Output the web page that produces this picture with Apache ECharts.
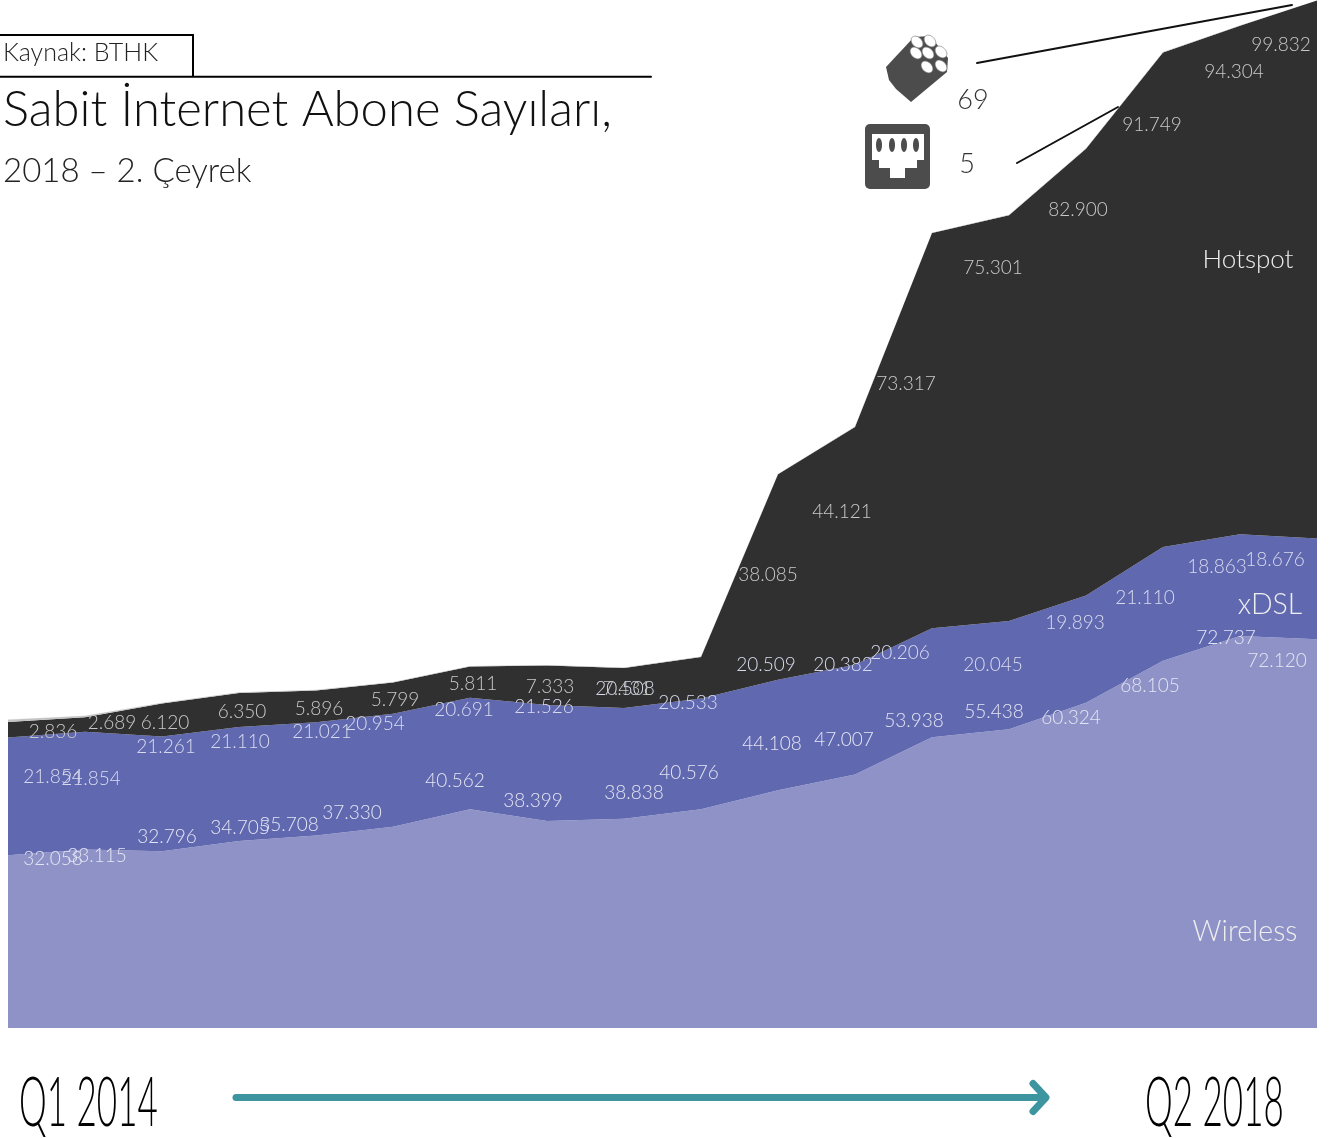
<!DOCTYPE html>
<html><head><meta charset="utf-8">
<style>html,body{margin:0;padding:0;background:#fff}#c{width:1338px;height:1138px}</style>
<script src="https://cdn.jsdelivr.net/npm/echarts@6/dist/echarts.min.js"></script>
</head><body><div id="c"></div>
<script>
const quarters = ['Q1 2014','Q2 2014','Q3 2014','Q4 2014','Q1 2015','Q2 2015','Q3 2015','Q4 2015','Q1 2016','Q2 2016','Q3 2016','Q4 2016','Q1 2017','Q2 2017','Q3 2017','Q4 2017','Q1 2018','Q2 2018'];
const wireless = [32058,33115,32796,34705,35708,37330,40562,38399,38838,40576,44108,47007,53938,55438,60324,68105,72737,72120];
const xdsl = [21854,21854,21261,21110,21021,20954,20691,21526,20508,20533,20509,20382,20206,20045,19893,21110,18863,18676];
const hotspot = [2836,2689,6120,6350,5896,5799,5811,7333,7431,7721,38085,44121,73317,75301,82900,91749,94304,99832];
const fiber = [420,260,130,100,90,85,80,78,76,75,74,73,72,71,70,70,69,69];
const ethernet = [40,25,15,12,10,9,8,8,7,7,6,6,6,5,5,5,5,5];

// Pixel centres of the value labels (layout only, hand placed in the source chart)
const wirelessLabelPos = [[53,859],[97,856],[167,837],[240,828],[289,825],[352,813],[455,781],[533,801],[634,793],[689,773],[772,744],[844,740],[914,721],[994,712],[1071,718],[1150,686],[1226,638],[1277,661]];
const xdslLabelPos = [[53,777],[91,779],[166,747],[240,742],[322,732],[375,724],[464,710],[544,707],[625,689],[688,703],[766,665],[843,665],[900,653],[993,665],[1075,623],[1145,598],[1217,567],[1275,560]];
const hotspotLabelPos = [[53,732],[112,723],[165,723],[242,712],[319,709],[395,700],[473,684],[550,687],[627,689],null,[768,575],[842,512],[906,384],[993,268],[1078,210],[1152,125],[1234,72],[1281,45]];

const FONT = 'Lato';
const fmt = v => String(v).replace(/\B(?=(\d{3})+$)/g, '.');
const chart = echarts.init(document.getElementById('c'), null, {renderer:'canvas'});
const maxY = 190702;

function layer(name, values, color, labelColor, pos, offsets){
  return {
    name, type:'line', stack:'total', data: values.map((v,i)=>{
      const item = {value:v};
      if(pos){
        item.label = pos[i] ? {show:true, offset: offsets ? offsets[i] : [0,0]} : {show:false};
      }
      return item;
    }),
    smooth:false, symbol:'circle', symbolSize:1, showSymbol:true, silent:true,
    itemStyle:{color:'rgba(0,0,0,0)'},
    lineStyle:{width:0}, areaStyle:{color, opacity:1},
    label:{show:!!pos, position:'inside', color:labelColor, fontFamily:FONT, fontWeight:300, fontSize:19,
      formatter:p=>fmt(p.value)},
    animation:false
  };
}

const Z = 100;
const T = (text,x,y,size,fill) => ({type:'text', x, y, z:Z, silent:true,
  style:{text, x:0, y:0, fill, font:`300 ${size}px ${FONT}`, textAlign:'center', textVerticalAlign:'middle'}});
const L = (x1,y1,x2,y2,w,c) => ({type:'line', z:Z, silent:true, shape:{x1,y1,x2,y2}, style:{stroke:c,lineWidth:w,lineCap:'round'}});
const TALL = (text,x,y) => ({type:'text', x, y, z:Z, scaleX:.515, silent:true,
  style:{text, x:0, y:0, fill:'#000', font:`300 68px ${FONT}`, textAlign:'left', textVerticalAlign:'middle'}});
const oval = (cx,cy) => ({type:'ellipse', z:Z+1, silent:true, shape:{cx,cy,rx:6.8,ry:4.8}, rotation:-Math.PI/4, originX:cx, originY:cy, style:{fill:'#fff',stroke:'#777',lineWidth:.6}});
const ICON='#4c4c4c';

const graphic = [
  L(0,35,193,35,2,'#000'), L(193,35,193,76,2,'#000'), L(0,76.7,651,76.7,2,'#000'),
  L(977,63,1292,5,2,'#111'), L(1017,163,1118,107,2,'#111'),
  T('69',973,100,27,'#333'), T('5',967,164,27,'#333'),
  T('Hotspot',1248,260,26,'#eee'), T('xDSL',1270,605,28.5,'#eee'), T('Wireless',1245,932,28.5,'#eee'),
  {type:'polygon', z:Z, silent:true, shape:{points:[[914,37],[886,67],[889,80],[896,89],[911,102],[947,72],[948,58],[930,36]]}, style:{fill:ICON}},
  oval(917,42),oval(930,41),oval(916,53),oval(928,53),oval(941,52),oval(927,67),oval(941,66),
  {type:'rect', z:Z, silent:true, shape:{x:865,y:124,width:65,height:65,r:5}, style:{fill:ICON}},
  {type:'polygon', z:Z+1, silent:true, shape:{points:[[872,134],[924,134],[924,160],[917,160],[917,168],[905,168],[905,178],[890,178],[890,168],[879,168],[879,160],[872,160]]}, style:{fill:'#fff'}},
  ...[879,892,904,916].map(cx=>({type:'ellipse', z:Z+2, silent:true, shape:{cx,cy:145,rx:3,ry:7}, style:{fill:ICON}})),
  TALL('Q1 2014',19,1104), TALL('Q2 2018',1145,1104),
  L(236,1097.5,1045,1097.5,7,'#3d95a0'),
  {type:'polyline', z:Z, silent:true, shape:{points:[[1033,1083.5],[1046,1097.5],[1033,1111.5]]}, style:{stroke:'#3d95a0',lineWidth:7,lineCap:'round',lineJoin:'round',fill:'none'}}
];

const base = {
  backgroundColor:'#fff', animation:false,
  grid:{left:8, width:1309, top:0, height:1028, containLabel:false},
  xAxis:{type:'category', data:quarters, boundaryGap:false, show:false},
  yAxis:{type:'value', min:0, max:maxY, show:false},
  title:[
    {text:'Sabit İnternet Abone Sayıları,', left:3, top:86, padding:0, textStyle:{fontFamily:FONT,fontWeight:300,fontSize:49,color:'#111'}},
    {text:'2018 – 2. Çeyrek', left:3, top:155, padding:0, textStyle:{fontFamily:FONT,fontWeight:300,fontSize:33,color:'#222'}},
    {text:'Kaynak: BTHK', left:3, top:40, padding:0, textStyle:{fontFamily:FONT,fontWeight:300,fontSize:25,color:'#222'}}
  ],
  graphic:{elements:graphic}
};
const seriesFor = (o1,o2,o3) => [
  layer('Wireless', wireless, '#8e92c7', '#e4e5f3', wirelessLabelPos, o1),
  layer('xDSL', xdsl, '#6068b0', '#d9dbef', xdslLabelPos, o2),
  layer('Hotspot', hotspot, '#303030', '#c9c9c9', hotspotLabelPos, o3),
  layer('Fiber', fiber, '#c4c4c4', '#000', null),
  layer('Ethernet', ethernet, '#c4c4c4', '#000', null)
];
chart.setOption({...base, series:seriesFor()});

// Turn the hand-placed label centres into offsets through the chart's own scales
function offsets(pos, stacks){
  return pos.map((p,i)=>{
    if(!p) return [0,0];
    const a = chart.convertToPixel({gridIndex:0}, [i, stacks.reduce((s,arr)=>s+arr[i],0)]);
    return [p[0]-a[0], p[1]-a[1]];
  });
}
chart.setOption({series:seriesFor(
  offsets(wirelessLabelPos,[wireless]),
  offsets(xdslLabelPos,[wireless,xdsl]),
  offsets(hotspotLabelPos,[wireless,xdsl,hotspot]))});
</script></body></html>
